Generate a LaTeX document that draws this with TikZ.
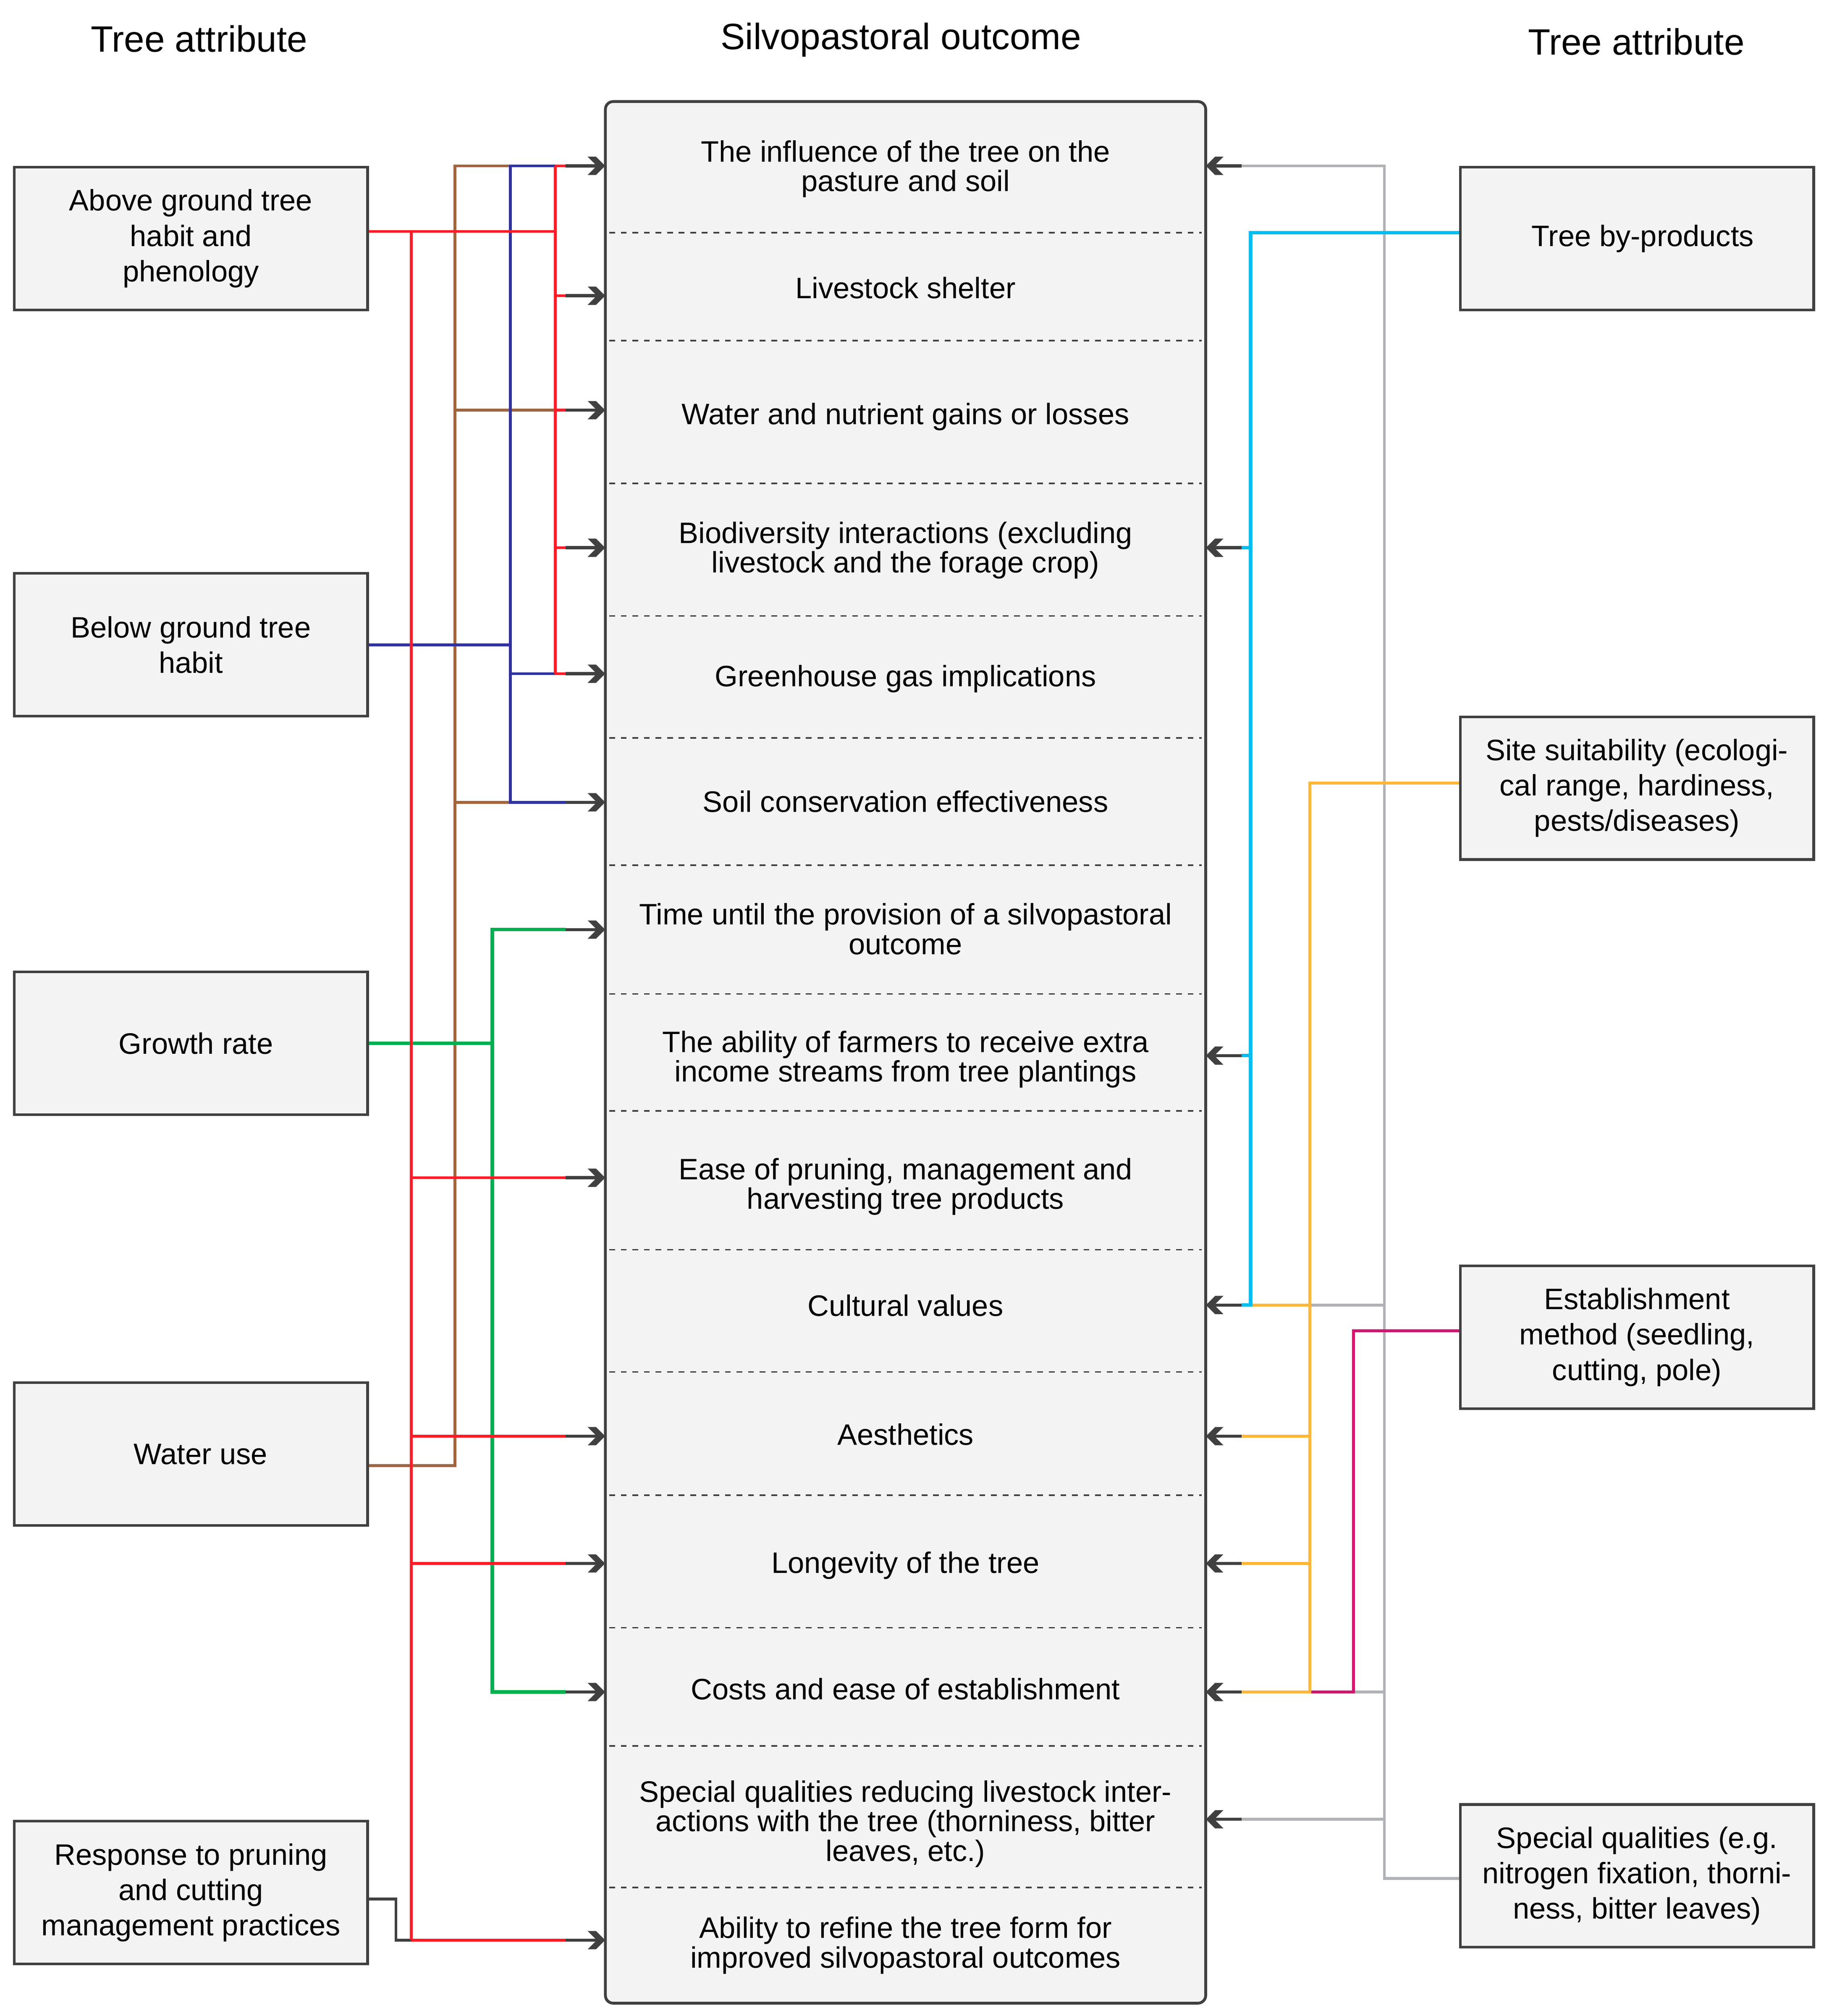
\documentclass[tikz,border=0pt]{standalone}
\usepackage{fontspec}
\setmainfont{Liberation Sans}
\usetikzlibrary{arrows.meta,calc}
\definecolor{cdark}{RGB}{64,64,64}
\definecolor{cfill}{RGB}{243,243,243}
\definecolor{cred}{RGB}{255,28,40}
\definecolor{cbrown}{RGB}{160,100,62}
\definecolor{cblue}{RGB}{48,50,160}
\definecolor{cgreen}{RGB}{0,176,80}
\definecolor{ccyan}{RGB}{0,190,240}
\definecolor{corange}{RGB}{255,182,52}
\definecolor{cmag}{RGB}{208,22,110}
\definecolor{cgray}{RGB}{176,178,182}
\pgfdeclarearrow{
  name = RefChev,
  setup code = {
    \pgfarrowssettipend{0pt}
    \pgfarrowssetlineend{-5pt}
    \pgfarrowssetbackend{-13.6pt}
  },
  drawing code = {
    \pgfpathmoveto{\pgfqpoint{0pt}{0pt}}
    \pgfpathlineto{\pgfqpoint{-7.1pt}{7.1pt}}
    \pgfpathlineto{\pgfqpoint{-13.6pt}{7.1pt}}
    \pgfpathlineto{\pgfqpoint{-6.5pt}{0pt}}
    \pgfpathlineto{\pgfqpoint{-13.6pt}{-7.1pt}}
    \pgfpathlineto{\pgfqpoint{-7.1pt}{-7.1pt}}
    \pgfpathclose
    \pgfusepathqfill
  }
}
\begin{document}
\begin{tikzpicture}[x=1pt,y=-1pt,
  attr/.style={draw=cdark,line width=2pt,fill=cfill,minimum width=275pt,minimum height=111pt,inner sep=0pt,align=center,font=\fontsize{23}{27.5}\selectfont},
  centerbox/.style={draw=cdark,line width=2.2pt,fill=cfill,rounded corners=6pt,minimum width=467pt,minimum height=1479pt,inner sep=0pt},
  outc/.style={minimum width=467pt,inner sep=0pt,align=center,font=\fontsize{23}{23}\selectfont},
  ttl/.style={font=\fontsize{28.5}{34}\selectfont,anchor=base,inner sep=0pt},
  conn/.style={line width=2.2pt},
  thick conn/.style={line width=2.7pt},
  arr/.style={draw=cdark,line width=2.4pt,-{RefChev}},
  sepline/.style={draw=cdark,line width=1.2pt,dash pattern=on 4.5pt off 4.5pt},
]
\useasboundingbox (0,0) rectangle (1429,1568);

% titles
\node[ttl] (t1) at (155,40.5) {Tree attribute};
\node[ttl] (t2) at (701,38.5) {Silvopastoral outcome};
\node[ttl] (t3) at (1273,42.5) {Tree attribute};

% central box
\node[centerbox] (box) at (704.5,818.5) {};
\foreach \yy in {181,265,376,479,574,673,773,864,972,1067,1163,1266,1358,1468}
  \draw[sepline] (474,\yy) -- (935,\yy);

\node[outc] (O1) at (704.5,131.5) {The influence of the tree on the\\pasture and soil};
\node[outc] (O2) at (704.5,224) {Livestock shelter};
\node[outc] (O3) at (704.5,324) {Water and nutrient gains or losses};
\node[outc] (O4) at (704.5,428) {Biodiversity interactions (excluding\\livestock and the forage crop)};
\node[outc] (O5) at (704.5,528) {Greenhouse gas implications};
\node[outc] (O6) at (704.5,623.5) {Soil conservation effectiveness};
\node[outc] (O7) at (704.5,722.5) {Time until the provision of a silvopastoral\\outcome};
\node[outc] (O8) at (704.5,824) {The ability of farmers to receive extra\\income streams from tree plantings};
\node[outc] (O9) at (704.5,923) {Ease of pruning, management and\\harvesting tree products};
\node[outc] (O10) at (704.5,1015.5) {Cultural values};
\node[outc] (O11) at (704.5,1115.5) {Aesthetics};
\node[outc] (O12) at (704.5,1217.5) {Longevity of the tree};
\node[outc] (O13) at (704.5,1313.5) {Costs and ease of establishment};
\node[outc] (O14) at (704.5,1418.5) {Special qualities reducing livestock inter-\\actions with the tree (thorniness, bitter\\leaves, etc.)};
\node[outc] (O15) at (704.5,1513) {Ability to refine the tree form for\\improved silvopastoral outcomes};

% arrow heights for each outcome row
\coordinate (p1) at ($(O1.center)+(0,-2.5)$);
\coordinate (p2) at ($(O2.center)+(0,6)$);
\coordinate (p3) at ($(O3.center)+(0,-5)$);
\coordinate (p4) at ($(O4.center)+(0,-2)$);
\coordinate (p5) at ($(O5.center)+(0,-4)$);
\coordinate (p6) at ($(O6.center)+(0,0.5)$);
\coordinate (p7) at ($(O7.center)+(0,0.5)$);
\coordinate (p8) at ($(O8.center)+(0,-3)$);
\coordinate (p9) at ($(O9.center)+(0,-7)$);
\coordinate (p10) at ($(O10.center)+(0,-0.5)$);
\coordinate (p11) at ($(O11.center)+(0,1.5)$);
\coordinate (p12) at ($(O12.center)+(0,-1.5)$);
\coordinate (p13) at ($(O13.center)+(0,2.5)$);
\coordinate (p14) at ($(O14.center)+(0,-3.5)$);
\coordinate (p15) at ($(O15.center)+(0,-4)$);

% left boxes
\node[attr] (L1) at (148.5,185.5) {Above ground tree\\habit and\\phenology};
\node[attr] (L2) at (148.5,501.5) {Below ground tree\\habit};
\node[attr] (L3) at (148.5,811.5) {\hspace*{8pt}Growth rate};
\node[attr] (L4) at (148.5,1131) {\hspace*{15pt}Water use};
\node[attr] (L5) at (148.5,1472) {Response to pruning\\and cutting\\management practices};

% right boxes
\node[attr] (R1) at (1273.5,185.5) {\hspace*{9pt}Tree by-products};
\node[attr] (R2) at (1273.5,613) {Site suitability (ecologi-\\cal range, hardiness,\\pests/diseases)};
\node[attr] (R3) at (1273.5,1040) {Establishment\\method (seedling,\\cutting, pole)};
\node[attr] (R4) at (1273.5,1459) {Special qualities (e.g.\\nitrogen fixation, thorni-\\ness, bitter leaves)};

% bus coordinates
\coordinate (xR) at (320,0);
\coordinate (xBr) at (354,0);
\coordinate (xG) at (383,0);
\coordinate (xBl) at (397,0);
\coordinate (xRi) at (432,0);
\coordinate (xA) at (440,0);
\coordinate (xC) at (973,0);
\coordinate (xO) at (1019,0);
\coordinate (xM) at (1053,0);
\coordinate (xGr) at (1077,0);
\coordinate (xAr) at (966,0);

\coordinate (l1o) at ($(L1.east)+(0,-5.5)$);
\coordinate (l4o) at ($(L4.east)+(0,9)$);
\coordinate (l5o) at ($(L5.east)+(0,5)$);
\coordinate (r1o) at ($(R1.west)+(0,-4.5)$);
\coordinate (r2o) at ($(R2.west)+(0,-4)$);
\coordinate (r3o) at ($(R3.west)+(0,-5)$);
\coordinate (r4o) at ($(R4.west)+(0,2)$);

% ---- left connectors ----
% brown: water use
\draw[conn,cbrown] (l4o) -| (xBr |- p1) -- (xA |- p1);
\foreach \i in {3,6} \draw[conn,cbrown] (xBr |- p\i) -- (xA |- p\i);
% blue: below ground
\draw[conn,cblue] (L2.east) -- (xBl |- L2.east);
\draw[conn,cblue] (xA |- p1) -- (xBl |- p1) -- (xBl |- p6) -- (xA |- p6);
\draw[conn,cblue] (xBl |- p5) -- (xA |- p5);
% green: growth rate
\draw[thick conn,cgreen] (L3.east) -- (xG |- L3.east);
\draw[thick conn,cgreen] (xA |- p7) -- (xG |- p7) -- (xG |- p13) -- (xA |- p13);
% dark gray: response to pruning
\draw[conn,cdark] (l5o) -- ++(21,0) |- (xR |- p15);
% red: above ground
\draw[conn,cred] (l1o) -- (xRi |- l1o);
\draw[conn,cred] (xRi |- p1) -- (xRi |- p5);
\foreach \i in {1,2,3,4,5} \draw[conn,cred] (xRi |- p\i) -- (xA |- p\i);
\draw[conn,cred] (xR |- l1o) -- (xR |- p15);
\foreach \i in {9,11,12,15} \draw[conn,cred] (xR |- p\i) -- (xA |- p\i);
% left arrows
\foreach \i in {1,2,3,4,5,6,7,9,11,12,13,15}
  \draw[arr] (xA |- p\i) -- (O\i.west |- p\i);

% ---- right connectors ----
% light gray: special qualities
\draw[conn,cgray] (r4o) -| (xGr |- p1) -- (xAr |- p1);
\foreach \i in {10,13,14} \draw[conn,cgray] (xGr |- p\i) -- (xAr |- p\i);
% magenta: establishment method
\draw[conn,cmag] (r3o) -| (xM |- p13) -- (xO |- p13);
% orange: site suitability
\draw[conn,corange] (r2o) -| (xO |- p13) -- (xAr |- p13);
\foreach \i in {10,11,12} \draw[conn,corange] (xO |- p\i) -- (xAr |- p\i);
% cyan: tree by-products
\draw[thick conn,ccyan] (r1o) -| (xC |- p10) -- (xAr |- p10);
\foreach \i in {4,8} \draw[thick conn,ccyan] (xC |- p\i) -- (xAr |- p\i);
% right arrows
\foreach \i in {1,4,8,10,11,12,13,14}
  \draw[arr] (xAr |- p\i) -- (O\i.east |- p\i);
\end{tikzpicture}
\end{document}
